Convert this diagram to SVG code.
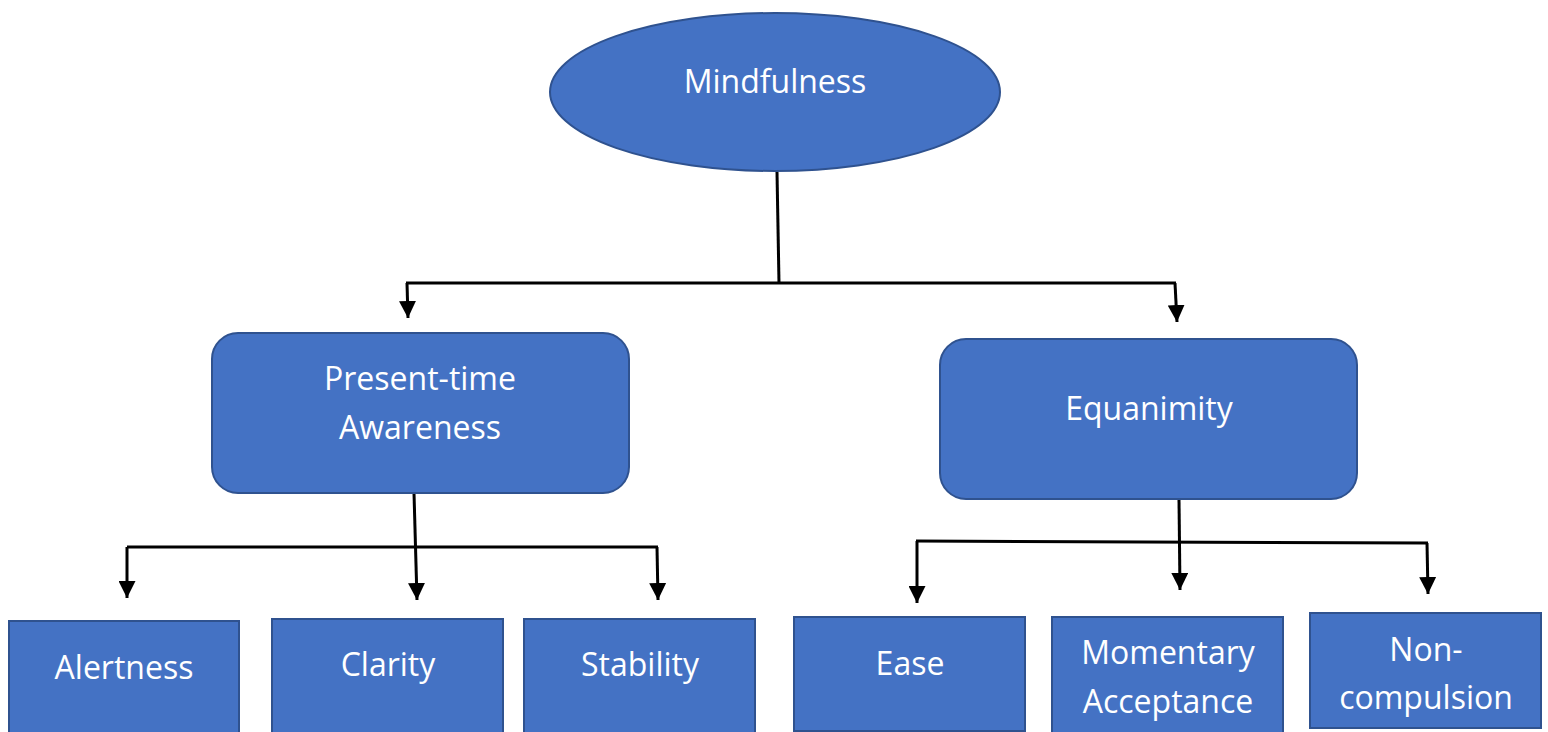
<svg xmlns="http://www.w3.org/2000/svg" width="1548" height="732" viewBox="0 0 1548 732">
<style>
.node{fill:#4472C4;stroke:#2F528F;stroke-width:2}
.lbl{fill:#FFFFFF;font-family:"Open Sans","Noto Sans",sans-serif;font-size:32px;text-anchor:middle}
.con{fill:none;stroke:#000000;stroke-width:3}
.arr{fill:none;stroke:#000000;stroke-width:3;marker-end:url(#ah)}
</style>
<defs>
<marker id="ah" viewBox="0 0 16 16" markerWidth="17" markerHeight="17" refX="16" refY="8" orient="auto" markerUnits="userSpaceOnUse">
<path d="M0,0 L16,8 L0,16 z" fill="#000000"/>
</marker>
</defs>
<rect width="1548" height="732" fill="#FFFFFF"/>
<g id="connectors">
<path class="con" d="M777,172 L779,283"/>
<path class="con" d="M406,283 L1176,283"/>
<path class="arr" d="M407,283 L408,318"/>
<path class="arr" d="M1175,283 L1177,322"/>
<path class="arr" d="M414,493 L417,600"/>
<path class="con" d="M127,547 L658,547"/>
<path class="arr" d="M127,547 L127,598"/>
<path class="arr" d="M657,547 L658,600"/>
<path class="arr" d="M1179,499 L1180,590"/>
<path class="con" d="M916,541 L1428,543"/>
<path class="arr" d="M917,541 L917,603"/>
<path class="arr" d="M1427,543 L1428,594"/>
</g>
<g id="mindfulness">
<ellipse class="node" cx="775" cy="92" rx="225" ry="79"/>
<text class="lbl" x="775" y="93">Mindfulness</text>
</g>
<g id="present-time-awareness">
<rect class="node" x="212" y="333" width="417" height="160" rx="26" ry="26"/>
<text class="lbl" x="420" y="390">Present-time</text>
<text class="lbl" x="420" y="439">Awareness</text>
</g>
<g id="equanimity">
<rect class="node" x="940" y="339" width="417" height="160" rx="26" ry="26"/>
<text class="lbl" x="1149" y="420">Equanimity</text>
</g>
<g id="alertness">
<rect class="node" x="9" y="621" width="230" height="116"/>
<text class="lbl" x="124" y="679">Alertness</text>
</g>
<g id="clarity">
<rect class="node" x="272" y="619" width="231" height="118"/>
<text class="lbl" x="388" y="676">Clarity</text>
</g>
<g id="stability">
<rect class="node" x="524" y="619" width="231" height="118"/>
<text class="lbl" x="640" y="676">Stability</text>
</g>
<g id="ease">
<rect class="node" x="794" y="617" width="231" height="114"/>
<text class="lbl" x="910" y="675">Ease</text>
</g>
<g id="momentary-acceptance">
<rect class="node" x="1052" y="617" width="231" height="116"/>
<text class="lbl" x="1168" y="664">Momentary</text>
<text class="lbl" x="1168" y="713">Acceptance</text>
</g>
<g id="non-compulsion">
<rect class="node" x="1310" y="613" width="231" height="115"/>
<text class="lbl" x="1426" y="661">Non-</text>
<text class="lbl" x="1426" y="709">compulsion</text>
</g>
</svg>
